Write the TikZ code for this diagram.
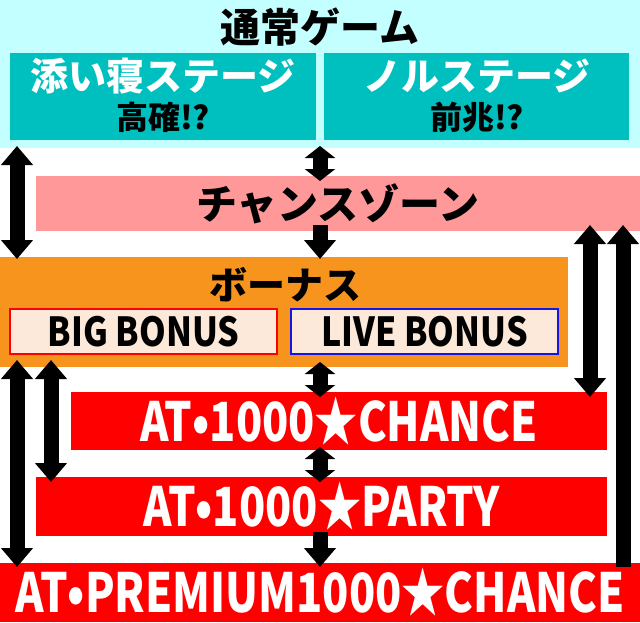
\documentclass[tikz,border=0pt]{standalone}
\usepackage{fontspec}
\usetikzlibrary{arrows.meta}

\newfontfamily\jpfont{Noto Sans CJK JP}[BoldFont={Noto Sans CJK JP Black}]
\newfontfamily\bonusfont{Noto Sans CJK JP}[BoldFont={Noto Sans CJK JP Black},FakeStretch=0.85]
\newfontfamily\atfont{Noto Sans CJK JP}[BoldFont={Noto Sans CJK JP Black},FakeStretch=0.8]

\definecolor{normalbg}{RGB}{196,255,255}
\definecolor{stagebg}{RGB}{0,191,191}
\definecolor{zonebg}{RGB}{255,153,153}
\definecolor{bonusbg}{RGB}{247,148,29}
\definecolor{bonusin}{RGB}{253,233,217}
\definecolor{atred}{RGB}{255,0,0}
\definecolor{liveblue}{RGB}{20,20,230}

\tikzset{
	area/.style={inner sep=0pt,outer sep=0pt,anchor=north west},
	jptext/.style={inner sep=0pt,font=\jpfont\bfseries\fontsize{38}{38}\selectfont},
	notetext/.style={inner sep=0pt,font=\jpfont\bfseries\fontsize{32}{32}\selectfont},
	bonustext/.style={font=\bonusfont\bfseries\fontsize{40}{40}\selectfont},
	attext/.style={text=white,font=\atfont\bfseries\fontsize{54}{54}\selectfont},
	bothway/.style={line width=15pt,{Triangle[width=31pt,length=19pt]}-{Triangle[width=31pt,length=19pt]}},
	shortway/.style={line width=15pt,{Triangle[width=30pt,length=12pt]}-{Triangle[width=30pt,length=12pt]}},
	oneway/.style={line width=15pt,-{Triangle[width=31pt,length=19pt]}}
}

\begin{document}
\begin{tikzpicture}[x=1pt,y=-1pt]
	
	\useasboundingbox (0,0) rectangle (640,622);
	
	% boxes
	\node[area,fill=normalbg,minimum width=640pt,minimum height=148pt] (normal) at (0,0) {};
	\node[area,fill=stagebg,minimum width=306pt,minimum height=87pt] (soine) at (10,53) {};
	\node[area,fill=stagebg,minimum width=305pt,minimum height=87pt] (noru) at (324,53) {};
	\node[area,fill=zonebg,minimum width=604pt,minimum height=55pt,jptext,font=\jpfont\bfseries\fontsize{41}{41}\selectfont] (czone) at (36,176) {チャンスゾーン};
	\node[area,fill=bonusbg,minimum width=568pt,minimum height=110pt] (bonus) at (0,257) {};
	\node[area,fill=bonusin,draw=atred,line width=1.5pt,minimum width=267pt,minimum height=45pt,bonustext] (big) at (10,309) {BIG BONUS};
	\node[area,fill=bonusin,draw=liveblue,line width=1.5pt,minimum width=267pt,minimum height=45pt,bonustext] (live) at (291,309) {LIVE BONUS};
	\node[area,fill=atred,minimum width=536pt,minimum height=58pt,attext] (atchance) at (71,392) {AT•1000★CHANCE};
	\node[area,fill=atred,minimum width=571pt,minimum height=59pt,attext] (atparty) at (36,477) {AT•1000★PARTY};
	\node[area,fill=atred,minimum width=640pt,minimum height=59pt,attext] (premium) at (0,563) {AT•PREMIUM1000★CHANCE};
	
	% titles
	\node[jptext,font=\jpfont\bfseries\fontsize{40}{40}\selectfont] (normalname) at (320,27) {通常ゲーム};
	\node[jptext,text=white] (soinename) at (163,76) {添い寝ステージ};
	\node[notetext] (soinenote) at (163,117) {高確!?};
	\node[jptext,text=white] (noruname) at (477,76) {ノルステージ};
	\node[notetext] (norunote) at (477,117) {前兆!?};
	\node[jptext] (bonusname) at (285,285) {ボーナス};
	
	% arrows
	\draw[bothway] ([xshift=17pt,yshift=2pt]normal.south west) -- ([xshift=17pt,yshift=-2pt]bonus.north west);
	\draw[shortway] ([yshift=2pt]normal.south) -- ([yshift=-5pt]normal.south |- czone.north);
	\draw[oneway] ([yshift=6pt]normal.south |- czone.south) -- ([yshift=-2pt]normal.south |- bonus.north);
	\draw[shortway] ([yshift=5pt]normal.south |- bonus.south) -- ([yshift=-5pt]normal.south |- atchance.north);
	\draw[shortway] ([yshift=3pt]normal.south |- atchance.south) -- ([yshift=-5pt]normal.south |- atparty.north);
	\draw[oneway] ([yshift=4pt]premium.north |- atparty.south) -- ([yshift=-4pt]premium.north);
	\draw[bothway] ([xshift=17pt,yshift=7pt]bonus.south west) -- ([xshift=17pt,yshift=-4pt]premium.north west);
	\draw[bothway] ([xshift=51pt,yshift=7pt]bonus.south west) -- ([xshift=15pt,yshift=-5pt]atparty.north west);
	\draw[bothway] ([xshift=-50pt,yshift=6pt]czone.south east) -- ([xshift=-17pt,yshift=-5pt]atchance.north east);
	\draw[oneway] ([xshift=-17pt,yshift=-4pt]premium.north east) -- ([xshift=-17pt,yshift=6pt]czone.south east);
	
\end{tikzpicture}
\end{document}
